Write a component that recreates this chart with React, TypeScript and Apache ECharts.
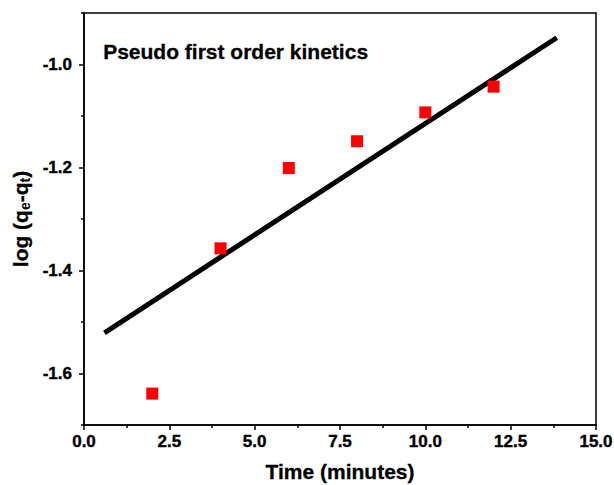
import React, { useEffect, useRef } from "react";
import * as echarts from "echarts";

const timeMin = [2, 4, 6, 8, 10, 12];
const logQ = [-1.639, -1.357, -1.201, -1.149, -1.093, -1.043];
const fitX = [0.6, 13.85];
const fitY = [-1.521, -0.948];
const yMajor = [-1.6, -1.4, -1.2, -1.0];
const yMinor = [-1.7, -1.5, -1.3, -1.1, -0.9];
const title = "Pseudo first order kinetics";

export default function App() {
  const ref = useRef<HTMLDivElement>(null);
  useEffect(() => {
    if (!ref.current) return;
    const chart = echarts.init(ref.current, null, { renderer: "svg" });
    const font = "'Liberation Sans', Arial, sans-serif";
    const boldRich = {
      b: {
        color: "#000", fontWeight: "bold", fontSize: 17, fontFamily: font,
        textBorderColor: "#000", textBorderWidth: 0.4,
      },
    };
    const fmt = (v: number) => `{b|${v.toFixed(1)}}`;
    chart.setOption({
      animation: false,
      textStyle: { fontFamily: font },
      grid: {
        left: 84, top: 13, right: 18, bottom: 60,
        containLabel: false, outerBoundsMode: "none",
        show: true, borderColor: "#000", borderWidth: 1.5, backgroundColor: "transparent",
      },
      graphic: [
        {
          type: "text", left: 103, top: 41,
          style: {
            text: title, font: `bold 21px ${font}`, fill: "#000",
            stroke: "#000", lineWidth: 0.3,
          },
        },
      ],
      xAxis: {
        type: "value", min: 0, max: 15, interval: 2.5,
        splitLine: { show: false },
        axisLine: { lineStyle: { color: "#000", width: 1.5 } },
        axisTick: { length: 5, lineStyle: { color: "#000", width: 1.5 } },
        minorTick: { show: true, splitNumber: 2, length: 3, lineStyle: { color: "#000", width: 1.5 } },
        axisLabel: {
          color: "#000", fontWeight: "bold", fontSize: 17, fontFamily: font,
          margin: 8, formatter: fmt, rich: boldRich,
        },
        name: "Time (minutes)", nameLocation: "middle", nameGap: 36,
        nameTextStyle: {
          color: "#000", fontWeight: "bold", fontSize: 21, fontFamily: font,
          textBorderColor: "#000", textBorderWidth: 0.3,
        },
      },
      yAxis: [
        {
          type: "value", min: -1.7, max: -0.9, interval: 0.1,
          splitLine: { show: false },
          axisLine: { lineStyle: { color: "#000", width: 1.5 } },
          axisTick: { customValues: yMajor, length: 5, lineStyle: { color: "#000", width: 1.5 } },
          axisLabel: {
            color: "#000", fontWeight: "bold", fontSize: 17, fontFamily: font,
            customValues: yMajor, margin: 12, formatter: fmt, rich: boldRich,
          },
          name: "{a|log (q}{s|e}{a|-q}{s|t}{a|)}",
          nameLocation: "middle", nameGap: 52, nameRotate: 90,
          nameTextStyle: {
            color: "#000",
            rich: {
              a: { fontWeight: "bold", fontSize: 21, color: "#000", fontFamily: font, textBorderColor: "#000", textBorderWidth: 0.3 },
              s: { fontWeight: "bold", fontSize: 14, color: "#000", fontFamily: font, verticalAlign: "bottom", padding: [9, 0, 0, 0] },
            },
          },
        },
        {
          type: "value", min: -1.7, max: -0.9, interval: 0.1, position: "left",
          splitLine: { show: false },
          axisLine: { show: false },
          axisTick: { customValues: yMinor, length: 3, lineStyle: { color: "#000", width: 1.5 } },
          axisLabel: { show: false },
        },
      ],
      series: [
        {
          type: "line",
          data: fitX.map((x, i) => [x, fitY[i]]),
          showSymbol: false, symbol: "none",
          lineStyle: { color: "#000", width: 5 },
          z: 2,
        },
        {
          type: "scatter",
          data: timeMin.map((x, i) => [x, logQ[i]]),
          symbol: "rect", symbolSize: 12,
          itemStyle: { color: "#ff0000", opacity: 1 },
          z: 3,
        },
      ],
    });
    return () => chart.dispose();
  }, []);
  return <div ref={ref} style={{ width: 614, height: 485, position: "absolute", left: 0, top: 0 }} />;
}
